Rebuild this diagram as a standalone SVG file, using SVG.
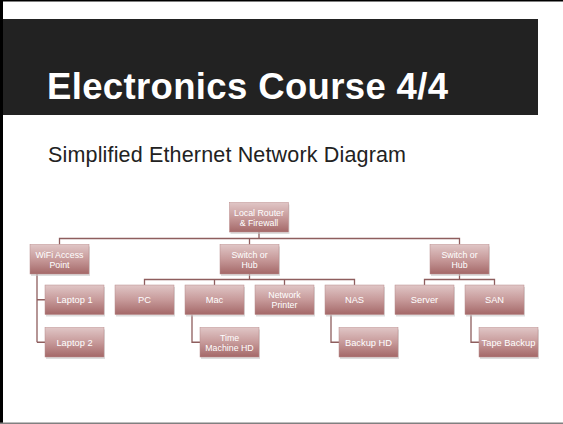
<svg xmlns="http://www.w3.org/2000/svg" width="563" height="424" viewBox="0 0 563 424">
<defs>
<linearGradient id="g" x1="0" y1="0" x2="0" y2="1">
<stop offset="0" stop-color="#e0c6c6"/>
<stop offset="0.5" stop-color="#c79a9a"/>
<stop offset="1" stop-color="#a46868"/>
</linearGradient>
<style>
.n rect.b{fill:url(#g);stroke:#b98a8a;stroke-width:0.5}
.n rect.s{fill:#c8c8c8;opacity:0.6}
.n text{font-family:"Liberation Sans",Arial,sans-serif;font-size:9.3px;fill:#ffffff;text-anchor:middle}
.n text.t{font-size:8.8px}
#connectors path{fill:none;stroke:#8e5e5e;stroke-width:1.3}
</style>
</defs>
<rect width="563" height="424" fill="#ffffff"/>
<rect x="0" y="0" width="563" height="1.5" fill="#000"/>
<rect x="0" y="0" width="3" height="424" fill="#000"/>
<rect x="0" y="422.5" width="563" height="1.5" fill="#808080"/>
<rect x="3" y="19" width="535" height="96" fill="#222222"/>
<text x="47" y="98.5" font-family="Liberation Sans,Arial,sans-serif" font-weight="bold" font-size="36.5" fill="#ffffff" textLength="401" lengthAdjust="spacing">Electronics Course 4/4</text>
<text x="48" y="161.5" font-family="Liberation Sans,Arial,sans-serif" font-size="21.5" fill="#222222" textLength="358" lengthAdjust="spacing">Simplified Ethernet Network Diagram</text>
<g id="connectors">
<path d="M259 232 V238.5 M59.5 244.5 V238.5 H459.5 V244.5 M249.5 238.5 V244.5"/>
<path d="M37 274 V342.25 M37 299.75 H45 M37 342.25 H45"/>
<path d="M249.5 274 V279.5 M144.5 285 V279.5 H354.5 V285 M214.5 279.5 V285 M284.5 279.5 V285"/>
<path d="M192 314.5 V342.25 H200"/>
<path d="M331 314.5 V342.25 H339"/>
<path d="M459.5 274 V279.5 M424.5 285 V279.5 H494.5 V285"/>
<path d="M471 314.5 V342.25 H479"/>
</g>
<g id="router" class="n"><rect class="s" x="230.5" y="204.5" width="59" height="29.5"/><rect class="b" x="229.5" y="202.5" width="59" height="29.5"/><text class="t" x="259" y="215.5">Local Router</text><text class="t" x="259" y="225.5">&amp; Firewall</text></g>
<g id="wifi" class="n"><rect class="s" x="31" y="246.5" width="59" height="29.5"/><rect class="b" x="30" y="244.5" width="59" height="29.5"/><text class="t" x="59.5" y="257.5">WiFi Access</text><text class="t" x="59.5" y="267.5">Point</text></g>
<g id="switch1" class="n"><rect class="s" x="221" y="246.5" width="59" height="29.5"/><rect class="b" x="220" y="244.5" width="59" height="29.5"/><text class="t" x="249.5" y="257.5">Switch or</text><text class="t" x="249.5" y="267.5">Hub</text></g>
<g id="switch2" class="n"><rect class="s" x="431" y="246.5" width="59" height="29.5"/><rect class="b" x="430" y="244.5" width="59" height="29.5"/><text class="t" x="459.5" y="257.5">Switch or</text><text class="t" x="459.5" y="267.5">Hub</text></g>
<g id="laptop1" class="n"><rect class="s" x="46" y="287" width="59" height="29.5"/><rect class="b" x="45" y="285" width="59" height="29.5"/><text x="74.5" y="303">Laptop 1</text></g>
<g id="pc" class="n"><rect class="s" x="116" y="287" width="59" height="29.5"/><rect class="b" x="115" y="285" width="59" height="29.5"/><text x="144.5" y="303">PC</text></g>
<g id="mac" class="n"><rect class="s" x="186" y="287" width="59" height="29.5"/><rect class="b" x="185" y="285" width="59" height="29.5"/><text x="214.5" y="303">Mac</text></g>
<g id="printer" class="n"><rect class="s" x="256" y="287" width="59" height="29.5"/><rect class="b" x="255" y="285" width="59" height="29.5"/><text class="t" x="284.5" y="298">Network</text><text class="t" x="284.5" y="308">Printer</text></g>
<g id="nas" class="n"><rect class="s" x="326" y="287" width="59" height="29.5"/><rect class="b" x="325" y="285" width="59" height="29.5"/><text x="354.5" y="303">NAS</text></g>
<g id="server" class="n"><rect class="s" x="396" y="287" width="59" height="29.5"/><rect class="b" x="395" y="285" width="59" height="29.5"/><text x="424.5" y="303">Server</text></g>
<g id="san" class="n"><rect class="s" x="466" y="287" width="59" height="29.5"/><rect class="b" x="465" y="285" width="59" height="29.5"/><text x="494.5" y="303">SAN</text></g>
<g id="laptop2" class="n"><rect class="s" x="46" y="329.5" width="59" height="29.5"/><rect class="b" x="45" y="327.5" width="59" height="29.5"/><text x="74.5" y="345.5">Laptop 2</text></g>
<g id="timemachine" class="n"><rect class="s" x="201" y="329.5" width="59" height="29.5"/><rect class="b" x="200" y="327.5" width="59" height="29.5"/><text class="t" x="229.5" y="340.5">Time</text><text class="t" x="229.5" y="350.5">Machine HD</text></g>
<g id="backuphd" class="n"><rect class="s" x="340" y="329.5" width="59" height="29.5"/><rect class="b" x="339" y="327.5" width="59" height="29.5"/><text x="368.5" y="345.5">Backup HD</text></g>
<g id="tape" class="n"><rect class="s" x="480" y="329.5" width="59" height="29.5"/><rect class="b" x="479" y="327.5" width="59" height="29.5"/><text x="508.5" y="345.5">Tape Backup</text></g>
</svg>
